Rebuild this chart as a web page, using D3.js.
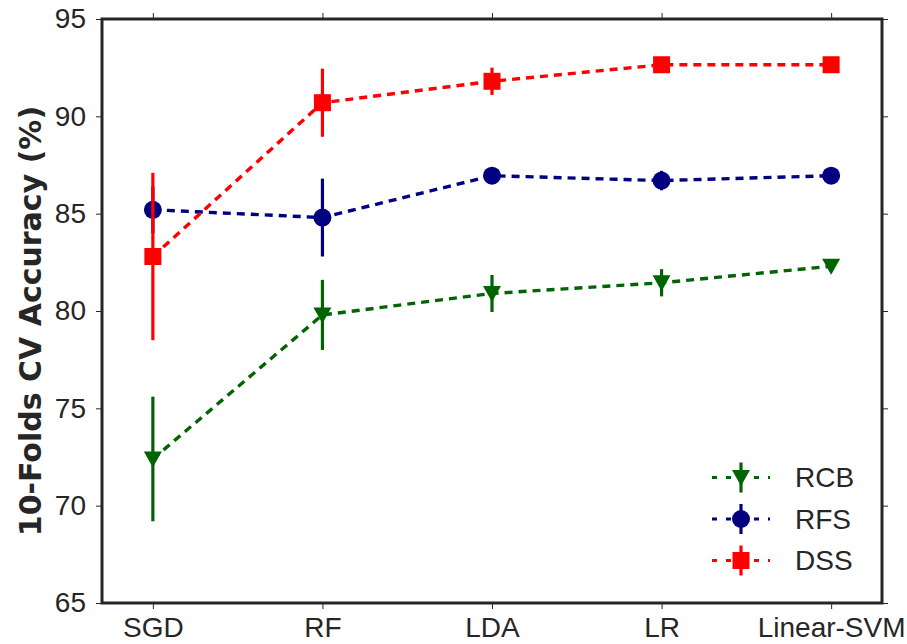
<!DOCTYPE html>
<html>
<head>
<meta charset="utf-8">
<script src="https://cdn.jsdelivr.net/npm/d3@7/dist/d3.min.js"></script>
<style>
  html, body { margin: 0; padding: 0; background: #fff; }
  svg { display: block; }
</style>
</head>
<body>
<svg id="chart" width="907" height="644"></svg>
<script>
// Classifiers on the x axis
const classifiers = ["SGD", "RF", "LDA", "LR", "Linear-SVM"];

// Mean 10-fold CV accuracy (%) and its spread for each feature set
const rcbMean = [72.4, 79.8, 80.9, 81.45, 82.3];
const rcbErr  = [3.2, 1.8, 0.95, 0.7, 0.3];
const rfsMean = [85.2, 84.8, 86.95, 86.7, 86.95];
const rfsErr  = [1.2, 2.0, 0.35, 0.5, 0.3];
const dssMean = [82.8, 90.7, 91.8, 92.65, 92.65];
const dssErr  = [4.3, 1.75, 0.7, 0.3, 0.25];

const yTicks = [65, 70, 75, 80, 85, 90, 95];

const series = [
  { name: "RCB", mean: rcbMean, err: rcbErr, color: "#006400", marker: "triangle" },
  { name: "RFS", mean: rfsMean, err: rfsErr, color: "#000080", marker: "circle" },
  { name: "DSS", mean: dssMean, err: dssErr, color: "#ff0000", marker: "square" }
];

const plot = { left: 102, top: 19, right: 882, bottom: 603 };
const svg = d3.select("#chart");

const x = d3.scaleLinear().domain([-0.3, classifiers.length - 1 + 0.3]).range([plot.left, plot.right]);
const y = d3.scaleLinear().domain([65, 95]).range([plot.bottom, plot.top]);

const textColor = "#262626";
const tickFont = "'Liberation Sans', Arial, sans-serif";

// Axes: ticks point outwards on every side of the frame
function styleAxis(g) {
  g.select(".domain").remove();
  g.selectAll(".tick line").attr("stroke", textColor).attr("stroke-width", 1);
  g.selectAll(".tick text").attr("fill", textColor)
    .style("font-family", tickFont).style("font-size", "28px");
}

const idx = classifiers.map((_, i) => i);

svg.append("g").attr("transform", `translate(0,${plot.bottom})`)
  .call(d3.axisBottom(x).tickValues(idx).tickFormat(i => classifiers[i]).tickSize(6).tickPadding(8))
  .call(styleAxis);
svg.append("g").attr("transform", `translate(0,${plot.top})`)
  .call(d3.axisTop(x).tickValues(idx).tickFormat("").tickSize(6))
  .call(styleAxis);
svg.append("g").attr("transform", `translate(${plot.left},0)`)
  .call(d3.axisLeft(y).tickValues(yTicks).tickFormat(d3.format("d")).tickSize(6).tickPadding(10))
  .call(styleAxis);
svg.append("g").attr("transform", `translate(${plot.right},0)`)
  .call(d3.axisRight(y).tickValues(yTicks).tickFormat("").tickSize(6))
  .call(styleAxis);

// Y axis title
svg.append("text")
  .attr("transform", `translate(30,${(plot.top + plot.bottom) / 2 + 10}) rotate(-90)`)
  .attr("text-anchor", "middle")
  .attr("dominant-baseline", "central")
  .attr("fill", textColor)
  .style("font-family", "'DejaVu Sans', sans-serif")
  .style("font-weight", "bold")
  .style("font-size", "30px")
  .text("10-Folds CV Accuracy (%)");

// Marker shapes
function markerPath(type) {
  if (type === "circle") return d3.symbol(d3.symbolCircle, Math.PI * 9 * 9)();
  if (type === "square") return "M-8.5,-8.5H8.5V8.5H-8.5Z";
  return "M-9,-7.5L9,-7.5L0,8.5Z"; // downward triangle
}

const dash = "8,6";
const lineGen = d3.line().x((d, i) => x(i)).y(d => y(d));

series.forEach(s => {
  const g = svg.append("g");
  g.append("path")
    .attr("d", lineGen(s.mean))
    .attr("fill", "none")
    .attr("stroke", s.color)
    .attr("stroke-width", 3.4)
    .attr("stroke-dasharray", dash);
  g.selectAll("line.err").data(s.mean).enter().append("line")
    .attr("x1", (d, i) => x(i)).attr("x2", (d, i) => x(i))
    .attr("y1", (d, i) => y(d - s.err[i])).attr("y2", (d, i) => y(d + s.err[i]))
    .attr("stroke", s.color).attr("stroke-width", 3.2);
  g.selectAll("path.mk").data(s.mean).enter().append("path")
    .attr("d", markerPath(s.marker))
    .attr("transform", (d, i) => `translate(${x(i)},${y(d)})`)
    .attr("fill", s.color);
});

// Frame
svg.append("rect")
  .attr("x", plot.left).attr("y", plot.top)
  .attr("width", plot.right - plot.left).attr("height", plot.bottom - plot.top)
  .attr("fill", "none").attr("stroke", textColor).attr("stroke-width", 3);

// Legend
const legend = svg.append("g");
series.forEach((s, i) => {
  const ly = 477.5 + i * 41.5;
  const row = legend.append("g").attr("transform", `translate(0,${ly})`);
  row.append("line").attr("x1", 712).attr("x2", 770).attr("y1", 0).attr("y2", 0)
    .attr("stroke", s.color).attr("stroke-width", 3).attr("stroke-dasharray", "5,9");
  row.append("line").attr("x1", 741).attr("x2", 741).attr("y1", -15).attr("y2", 15)
    .attr("stroke", s.color).attr("stroke-width", 3.2);
  row.append("path").attr("d", markerPath(s.marker))
    .attr("transform", "translate(741,0)").attr("fill", s.color);
  row.append("text").attr("x", 795).attr("y", 0)
    .attr("dominant-baseline", "central")
    .attr("fill", textColor)
    .style("font-family", tickFont).style("font-size", "28px")
    .text(s.name);
});
</script>
</body>
</html>
